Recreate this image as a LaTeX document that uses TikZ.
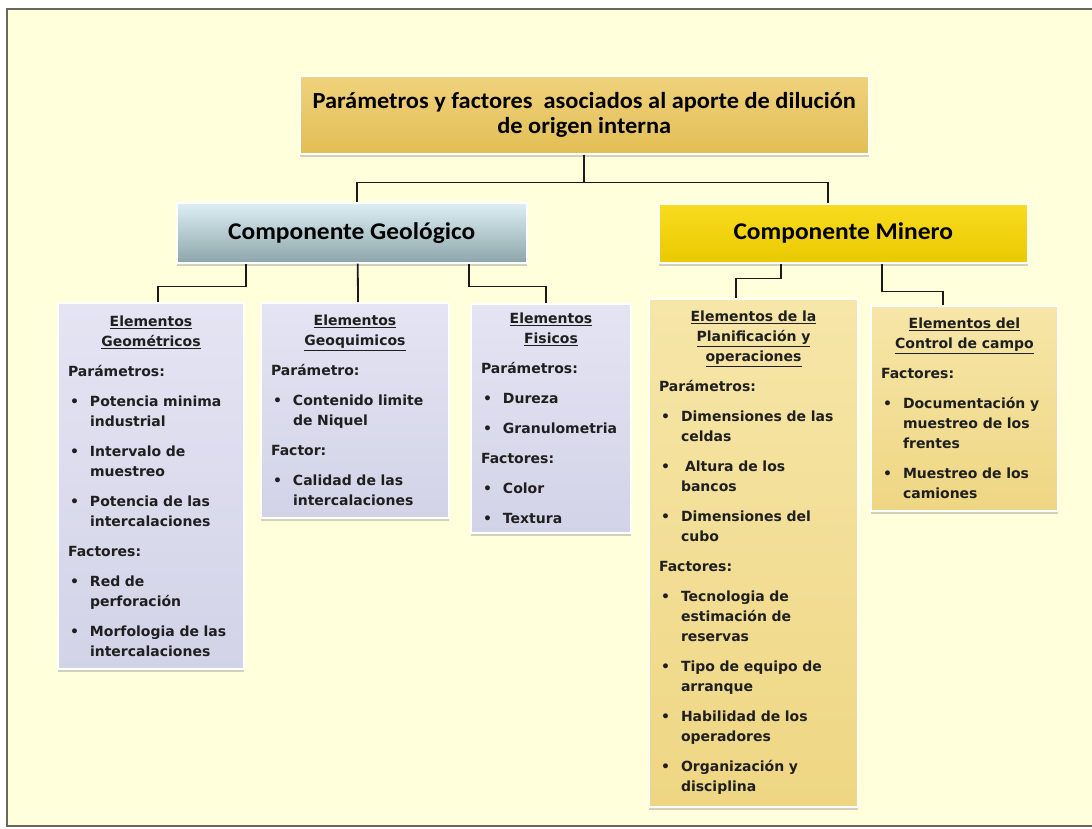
\documentclass[tikz,border=0pt]{standalone}
\usepackage{fontspec}
\setmainfont{DejaVu Sans}
\newfontfamily\headfont{Carlito}[FakeStretch=1.06]
\usetikzlibrary{shadows}

\definecolor{paper}{HTML}{FFFFDB}
\definecolor{framec}{HTML}{6B675E}
\definecolor{titleA}{HTML}{EFD27C}
\definecolor{titleB}{HTML}{E2BE55}
\definecolor{geoA}{HTML}{DDEFF4}
\definecolor{geoB}{HTML}{8DA6AB}
\definecolor{mineA}{HTML}{F8DC1E}
\definecolor{mineB}{HTML}{E9C900}
\definecolor{gelA}{HTML}{E4E4F3}
\definecolor{gelB}{HTML}{D3D3E8}
\definecolor{melA}{HTML}{F6E6A8}
\definecolor{melB}{HTML}{EED683}
\definecolor{textc}{HTML}{1F1F1F}
\definecolor{linkc}{HTML}{1A1A1A}

% heading, label and bullet item inside the element boxes
\newcommand\hd[1]{{\centering #1\par}}
\newcommand\lb[1]{\par\noindent #1\par}
\newcommand\itm[1]{\par\hangindent=22pt\hangafter=0\noindent\llap{\makebox[22pt][l]{\hspace{2pt}\textbullet}}#1\par}

\tikzset{
  titlebox/.style={anchor=north west, draw=white, line width=1.5pt, top color=titleA, bottom color=titleB,
    align=center, inner sep=0pt, text=black, font=\headfont\bfseries\fontsize{23}{25}\selectfont,
    drop shadow={shadow xshift=0pt, shadow yshift=-3pt, opacity=.35}},
  compbox/.style={anchor=north west, draw=white, line width=1.5pt, inner sep=0pt, text=black,
    font=\headfont\bfseries\fontsize{24}{26}\selectfont,
    drop shadow={shadow xshift=0pt, shadow yshift=-3pt, opacity=.35}},
  elembox/.style={anchor=north west, draw=white, line width=2pt, inner xsep=10pt, inner ysep=4pt, text=textc,
    font=\bfseries\fontsize{14}{20}\selectfont,
    execute at begin node={\setlength{\parskip}{10pt}\setlength{\parindent}{0pt}\raggedright},
    drop shadow={shadow xshift=0pt, shadow yshift=-3pt, opacity=.35}},
  geoelem/.style={elembox, top color=gelA, bottom color=gelB},
  minelem/.style={elembox, top color=melA, bottom color=melB},
  link/.style={draw=linkc, line width=1.8pt},
}

\begin{document}
\begin{tikzpicture}[x=1pt, y=-1pt]
\useasboundingbox (0,0) rectangle (1092,828);
%frame
\fill[paper] (7,9) rectangle (1092,826);
\draw[framec, line width=2.5pt] (1092,9) -- (7,9) -- (7,826) -- (1092,826);

%top and components
\node[titlebox, minimum width=569pt, minimum height=78pt] (title) at (299,75)
  {Parámetros y factores\ \ asociados al aporte de dilución\\de origen interna};
\node[compbox, top color=geoA, bottom color=geoB, minimum width=350pt, minimum height=60pt] (geo) at (176,202)
  {Componente Geológico};
\node[compbox, top color=mineA, bottom color=mineB, minimum width=369pt, minimum height=59pt] (mine) at (658,203)
  {Componente Minero};

%elements
\node[geoelem, text width=166pt, minimum height=366pt] (geom) at (57,302) {%
  \hd{\underline{Elementos}\\\underline{Geométricos}}
  \lb{Parámetros:}
  \itm{Potencia minima\newline industrial}
  \itm{Intervalo de\newline muestreo}
  \itm{Potencia de las\newline intercalaciones}
  \lb{Factores:}
  \itm{Red de\newline perforación}
  \itm{Morfologia de las\newline intercalaciones}};
\node[geoelem, text width=168pt, minimum height=215pt] (geoq) at (260,302) {%
  \hd{\underline{Elementos}\\\underline{Geoquimicos}}
  \lb{Parámetro:}
  \itm{Contenido limite\newline de Niquel}
  \lb{Factor:}
  \itm{Calidad de las\newline intercalaciones}};
\node[geoelem, text width=140pt, minimum height=229pt] (fis) at (470,303) {%
  \hd{\underline{Elementos}\\\underline{Fisicos}}
  \lb{Parámetros:}
  \itm{Dureza}
  \itm{Granulometria}
  \lb{Factores:}
  \itm{Color}
  \itm{Textura}};
\node[minelem, text width=189pt, minimum height=508pt] (plan) at (648,298) {%
  \hd{\underline{Elementos de la}\\\underline{Planificación y}\\\underline{operaciones}}
  \lb{Parámetros:}
  \itm{Dimensiones de las\newline celdas}
  \itm{\hspace{4pt}Altura de los\newline bancos}
  \itm{Dimensiones del\newline cubo}
  \lb{Factores:}
  \itm{Tecnologia de\newline estimación de\newline reservas}
  \itm{Tipo de equipo de\newline arranque}
  \itm{Habilidad de los\newline operadores}
  \itm{Organización y\newline disciplina}};
\node[minelem, text width=167pt, minimum height=205pt] (ctrl) at (870,305) {%
  \hd{\underline{Elementos del}\\\underline{Control de campo}}
  \lb{Factores:}
  \itm{Documentación y\newline muestreo de los\newline frentes}
  \itm{Muestreo de los\newline camiones}};

%links
\draw[link] (title.south) -- ++(0,28) -| ([xshift=5pt]geo.north);
\draw[link] (title.south) ++(0,28) -| ([xshift=-15.5pt]mine.north);
\draw[link] ([xshift=-106pt]geo.south) -- ++(0,23) -| ([xshift=7pt]geom.north);
\draw[link] ([xshift=6pt]geo.south) -- ([xshift=3pt]geoq.north);
\draw[link] ([xshift=117pt]geo.south) -- ++(0,23) -| ([xshift=-5pt]fis.north);
\draw[link] ([xshift=-62.5pt]mine.south) -- ++(0,15) -| ([xshift=-17.5pt]plan.north);
\draw[link] ([xshift=38.5pt]mine.south) -- ++(0,28) -| ([xshift=-21.5pt]ctrl.north);
\end{tikzpicture}
\end{document}
